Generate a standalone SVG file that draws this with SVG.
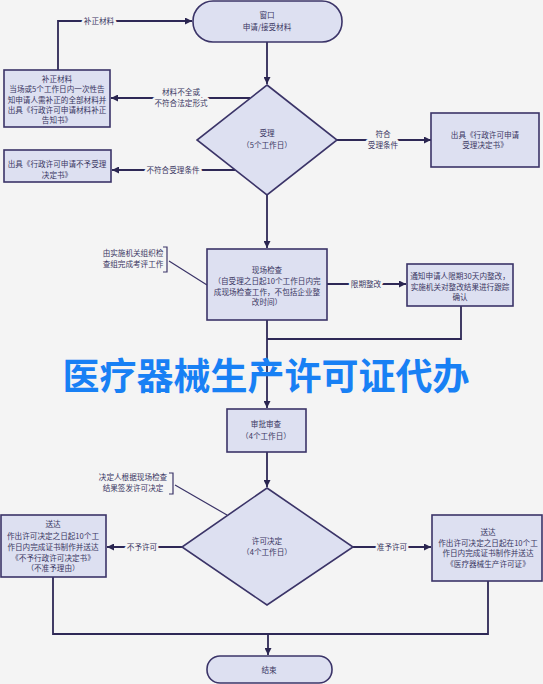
<svg xmlns="http://www.w3.org/2000/svg" width="543" height="684" viewBox="0 0 543 684">
<defs>
<marker id="arr" viewBox="0 0 10 10" refX="10" refY="5" markerWidth="7" markerHeight="7" markerUnits="userSpaceOnUse" orient="auto">
<path d="M0,0 L10,5 L0,10 z" fill="#2a2550"/>
</marker>
<style>
.node{fill:#dde0f1;stroke:#3b3468;stroke-width:1.6}
.line{fill:none;stroke:#2e2856;stroke-width:1.8}
.thin{fill:none;stroke:#3b3468;stroke-width:1.2}
text{font-family:"Noto Sans CJK SC","Noto Sans",sans-serif;font-size:7.6px;fill:#3a3662;text-anchor:middle}
.lbl{paint-order:stroke;stroke:#f4f4f4;stroke-width:5px;stroke-linejoin:round}
.wm{font-size:37px;font-weight:bold;fill:#1880f4}
</style>
</defs>
<rect width="543" height="684" fill="#f4f4f4"/>

<g id="connectors">
<path class="line" d="M267,42 V84" marker-end="url(#arr)"/>
<path class="line" d="M58,70 V21 H192" marker-end="url(#arr)"/>
<path class="line" d="M250,98 H111" marker-end="url(#arr)"/>
<path class="line" d="M235,170 H112" marker-end="url(#arr)"/>
<path class="line" d="M337,140 H431" marker-end="url(#arr)"/>
<path class="line" d="M267,195 V248" marker-end="url(#arr)"/>
<path class="thin" d="M163,247 H167 V272 H163 M169,261 L207,285"/>
<path class="line" d="M327,284 H406" marker-end="url(#arr)"/>
<path class="line" d="M461,306 V339 H267"/>
<path class="line" d="M267,320 V408" marker-end="url(#arr)"/>
<path class="line" d="M267,452 V487" marker-end="url(#arr)"/>
<path class="thin" d="M169,473 H173 V494 H169 M175,485 L227,515"/>
<path class="line" d="M182,547 H107" marker-end="url(#arr)"/>
<path class="line" d="M353,547 H431" marker-end="url(#arr)"/>
<path class="line" d="M53,577 V634 H488 V581"/>
<path class="line" d="M268,634 V655" marker-end="url(#arr)"/>
<text class="lbl" x="99" y="24">补正材料</text>
<text class="lbl" x="181" y="95">材料不全或</text>
<text class="lbl" x="181" y="106">不符合法定形式</text>
<text class="lbl" x="173" y="173">不符合受理条件</text>
<text class="lbl" x="383" y="137">符合</text>
<text class="lbl" x="383" y="148">受理条件</text>
<text class="lbl" x="366" y="287">限期整改</text>
<text class="lbl" x="142" y="550">不予许可</text>
<text class="lbl" x="392" y="550">准予许可</text>
<text x="133" y="256">由实施机关组织检</text>
<text x="133" y="267">查组完成考评工作</text>
<text x="133" y="480">决定人根据现场检查</text>
<text x="133" y="491">结果签发许可决定</text>
</g>

<g id="start">
<rect class="node" x="193" y="1" width="149" height="41" rx="20"/>
<text x="267" y="18">窗口</text>
<text x="267" y="30">申请/接受材料</text>
</g>

<g id="accept">
<polygon class="node" points="267,85 337,140 267,195 197,140"/>
<text x="267" y="136">受理</text>
<text x="267" y="148">（5个工作日）</text>
</g>

<g id="supplement">
<rect class="node" x="4" y="70" width="106" height="57"/>
<text x="57" y="82">补正材料</text>
<text x="57" y="92">当场或5个工作日内一次性告</text>
<text x="57" y="103">知申请人需补正的全部材料并</text>
<text x="57" y="113">出具《行政许可申请材料补正</text>
<text x="57" y="123">告知书》</text>
</g>

<g id="reject">
<rect class="node" x="4" y="150" width="107" height="32"/>
<text x="57" y="167">出具《行政许可申请不予受理</text>
<text x="57" y="178">决定书》</text>
</g>

<g id="acceptdoc">
<rect class="node" x="431" y="113" width="108" height="54"/>
<text x="485" y="138">出具《行政许可申请</text>
<text x="485" y="148">受理决定书》</text>
</g>

<g id="inspect">
<rect class="node" x="207" y="249" width="120" height="71"/>
<text x="267" y="273">现场检查</text>
<text x="267" y="284">（自受理之日起10个工作日内完</text>
<text x="267" y="295">成现场检查工作，不包括企业整</text>
<text x="267" y="305">改时间）</text>
</g>

<g id="rectify">
<rect class="node" x="407" y="264" width="106" height="42"/>
<text x="460" y="279">通知申请人限期30天内整改，</text>
<text x="460" y="290">实施机关对整改结果进行跟踪</text>
<text x="460" y="300">确认</text>
</g>

<g id="review">
<rect class="node" x="227" y="409" width="79" height="43"/>
<text x="266" y="427">审批审查</text>
<text x="266" y="439">（4个工作日）</text>
</g>

<g id="decision">
<polygon class="node" points="267,488 353,547 267,605 182,547"/>
<text x="267" y="544">许可决定</text>
<text x="267" y="555">（4个工作日）</text>
</g>

<g id="deny">
<rect class="node" x="1" y="515" width="105" height="62"/>
<text x="53" y="527">送达</text>
<text x="53" y="539">作出许可决定之日起10个工</text>
<text x="53" y="550">作日内完成证书制作并送达</text>
<text x="53" y="561">《不予行政许可决定书》</text>
<text x="53" y="571">（不准予理由）</text>
</g>

<g id="grant">
<rect class="node" x="432" y="515" width="110" height="66"/>
<text x="488" y="535">送达</text>
<text x="488" y="546">作出许可决定之日起在10个工</text>
<text x="488" y="556">作日内完成证书制作并送达</text>
<text x="488" y="567">《医疗器械生产许可证》</text>
</g>

<g id="end">
<rect class="node" x="207" y="656" width="125" height="27" rx="13"/>
<text x="269" y="673">结束</text>
</g>

<text class="wm" x="266" y="390">医疗器械生产许可证代办</text>
</svg>
